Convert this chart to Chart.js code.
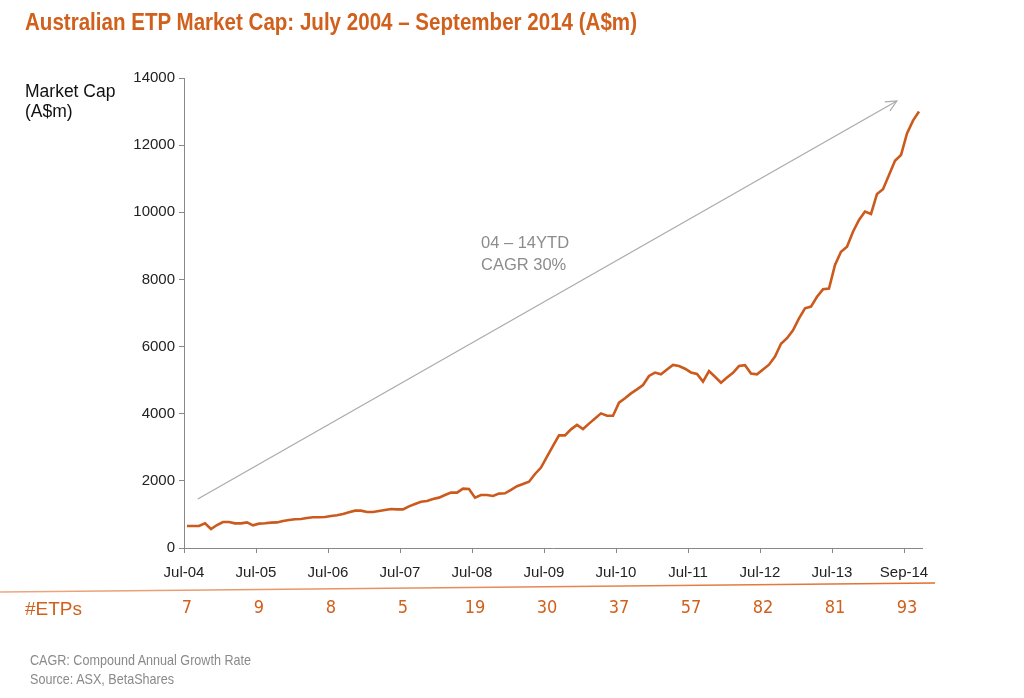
<!DOCTYPE html>
<html>
<head>
<meta charset="utf-8">
<script src="https://cdn.jsdelivr.net/npm/chart.js@4.4.1/dist/chart.umd.min.js"></script>
<style>
  html, body { margin:0; padding:0; background:#fff; }
  #wrap { position:relative; width:1024px; height:698px; overflow:hidden; }
  canvas { position:absolute; left:0; top:0; }
  .t { position:absolute; white-space:nowrap; line-height:1; transform-origin:0 0; }
  #title { left:25px; top:11px; font-family:"Liberation Sans",Arial,sans-serif; font-weight:bold; font-size:23px; color:#D0601C; }
  #ytitle { left:25px; top:81px; font-family:"Liberation Sans",Arial,sans-serif; font-size:17.5px; color:#111; line-height:20px; }
  #etps { left:25px; top:599px; font-family:"Liberation Sans",Arial,sans-serif; font-size:19px; color:#D0601C; }
  .foot { left:30px; font-family:"Liberation Sans",Arial,sans-serif; font-size:14.5px; color:#8a8a8a; }
  #foot1 { top:653px; }
  #foot2 { top:672px; }
</style>
</head>
<body>
<div id="wrap">
  <canvas id="c" width="1024" height="698"></canvas>
  <div class="t" id="title">Australian ETP Market Cap: July 2004 – September 2014 (A$m)</div>
  <div class="t" id="ytitle">Market Cap<br>(A$m)</div>
  <div class="t" id="etps">#ETPs</div>
  <div class="t foot" id="foot1">CAGR: Compound Annual Growth Rate</div>
  <div class="t foot" id="foot2">Source: ASX, BetaShares</div>
</div>
<script>
// ---- data ----
const monthNames = ['Jan','Feb','Mar','Apr','May','Jun','Jul','Aug','Sep','Oct','Nov','Dec'];
// monthly categories Jul-04 .. Sep-14
const months = [];
for (let k = 0; k < 123; k++) {
  const m = (6 + k) % 12, yr = 4 + Math.floor((6 + k) / 12);
  months.push(monthNames[m] + '-' + String(yr).padStart(2, '0'));
}
const marketCap = [
  655, 655, 655, 735, 566, 685, 775, 775, 735, 735, 762, 675,
  725, 735, 755, 762, 805, 835, 855, 865, 895, 915, 915, 925,
  955, 975, 1013, 1062, 1112, 1112, 1072, 1072, 1102, 1132, 1162, 1152,
  1152, 1240, 1311, 1380, 1400, 1460, 1500, 1580, 1650, 1650, 1770, 1760,
  1500, 1580, 1580, 1550, 1620, 1630, 1730, 1840, 1905, 1975, 2205, 2395,
  2720, 3040, 3355, 3355, 3535, 3665, 3545, 3705, 3855, 4010, 3940, 3940,
  4330, 4460, 4605, 4725, 4855, 5125, 5225, 5175, 5320, 5455, 5420, 5340,
  5230, 5185, 4955, 5270, 5100, 4925, 5080, 5220, 5420, 5445, 5200, 5175,
  5320, 5460, 5700, 6085, 6250, 6485, 6840, 7140, 7190, 7485, 7705, 7725,
  8430, 8825, 8975, 9420, 9770, 10020, 9950, 10545, 10685, 11110, 11535, 11705,
  12350, 12730, 13000
];
const xTickLabels = ['Jul-04','Jul-05','Jul-06','Jul-07','Jul-08','Jul-09','Jul-10','Jul-11','Jul-12','Jul-13','Sep-14'];
const xTickPositions = [0, 12, 24, 36, 48, 60, 72, 84, 96, 108, 120];
const etpCounts = [7, 9, 8, 5, 19, 30, 37, 57, 82, 81, 93];
const yTicks = [0, 2000, 4000, 6000, 8000, 10000, 12000, 14000];
const annotationLines = ['04 – 14YTD', 'CAGR 30%'];
const arrowFrom = {x: 2.3, y: 1460};
const arrowTo = {x: 118.8, y: 13315};

const points = marketCap.map((v, i) => ({x: i + 0.5, y: v, label: months[i]}));

// condense text blocks to the reference widths
function fitWidth(id, w) {
  const el = document.getElementById(id);
  el.style.transform = 'none';
  const cur = el.getBoundingClientRect().width;
  if (cur > 0) el.style.transform = 'scaleX(' + (w / cur) + ')';
}
function fitAll() {
  fitWidth('title', 612);
  const el = document.getElementById('foot1');
  el.style.transform = 'none';
  const s = 221 / el.getBoundingClientRect().width;
  el.style.transform = 'scaleX(' + s + ')';
  document.getElementById('foot2').style.transform = 'scaleX(' + s + ')';
}
fitAll();
if (document.fonts && document.fonts.ready) document.fonts.ready.then(fitAll);

const overlay = {
  id: 'overlay',
  afterDraw(chart) {
    const {ctx, scales: {x, y}} = chart;
    ctx.save();
    // CAGR arrow
    const x1 = x.getPixelForValue(arrowFrom.x), y1 = y.getPixelForValue(arrowFrom.y);
    const x2 = x.getPixelForValue(arrowTo.x), y2 = y.getPixelForValue(arrowTo.y);
    ctx.strokeStyle = '#aaaaaa';
    ctx.lineWidth = 1.2;
    ctx.beginPath(); ctx.moveTo(x1, y1); ctx.lineTo(x2, y2); ctx.stroke();
    const ang = Math.atan2(y2 - y1, x2 - x1), L = 12, a = 0.45;
    ctx.beginPath();
    ctx.moveTo(x2 - L * Math.cos(ang - a), y2 - L * Math.sin(ang - a));
    ctx.lineTo(x2, y2);
    ctx.lineTo(x2 - L * Math.cos(ang + a), y2 - L * Math.sin(ang + a));
    ctx.stroke();
    // annotation text
    ctx.fillStyle = '#8c8c8c';
    ctx.font = '16.5px "Liberation Sans", Arial, sans-serif';
    ctx.textAlign = 'left';
    ctx.textBaseline = 'middle';
    const tx = x.getPixelForValue(49.5);
    ctx.fillText(annotationLines[0], tx, y.getPixelForValue(9085));
    ctx.fillText(annotationLines[1], tx, y.getPixelForValue(8430));
    // separator line
    const g = ctx.createLinearGradient(0, 0, 935, 0);
    g.addColorStop(0, 'rgba(228,130,75,0.7)');
    g.addColorStop(1, 'rgba(224,110,45,1)');
    ctx.strokeStyle = g;
    ctx.lineWidth = 1.5;
    ctx.beginPath(); ctx.moveTo(0, 592); ctx.lineTo(935, 583); ctx.stroke();
    // ETP counts
    ctx.fillStyle = '#D0601C';
    ctx.font = '18px "DejaVu Sans Condensed", "Liberation Sans", sans-serif';
    ctx.textAlign = 'center';
    etpCounts.forEach((n, k) => {
      ctx.fillText(String(n), x.getPixelForValue(xTickPositions[k]) + 3, 608);
    });
    ctx.restore();
  }
};

new Chart(document.getElementById('c'), {
  type: 'line',
  data: {
    datasets: [{
      label: 'Market Cap (A$m)',
      data: points,
      borderColor: '#CB5A1C',
      borderWidth: 2.6,
      pointRadius: 0,
      tension: 0,
      fill: false
    }]
  },
  options: {
    responsive: false,
    animation: false,
    devicePixelRatio: 1,
    layout: { padding: { top: 78, right: 102, bottom: 0, left: 0 } },
    plugins: { legend: { display: false }, tooltip: { enabled: false }, title: { display: false } },
    scales: {
      x: {
        type: 'linear', min: 0, max: 123,
        afterFit(s) { s.height = 150; },
        afterBuildTicks(s) { s.ticks = xTickPositions.map(v => ({value: v})); },
        grid: { display: true, drawOnChartArea: false, drawTicks: true, tickLength: 5, color: '#888' },
        border: { display: true, color: '#888', width: 1 },
        ticks: {
          autoSkip: false, maxRotation: 0, padding: 11, color: '#222',
          font: { family: '"Liberation Sans", Arial, sans-serif', size: 15 },
          callback(v, idx) { return xTickLabels[idx]; }
        }
      },
      y: {
        min: 0, max: 14000,
        afterFit(s) { s.width = 184; },
        afterBuildTicks(s) { s.ticks = yTicks.map(v => ({value: v})); },
        grid: { display: true, drawOnChartArea: false, drawTicks: true, tickLength: 5, color: '#888' },
        border: { display: true, color: '#888', width: 1 },
        ticks: {
          padding: 4, color: '#222',
          font: { family: '"Liberation Sans", Arial, sans-serif', size: 15 },
          callback(v) { return String(v); }
        }
      }
    }
  },
  plugins: [overlay]
});
</script>
</body>
</html>
